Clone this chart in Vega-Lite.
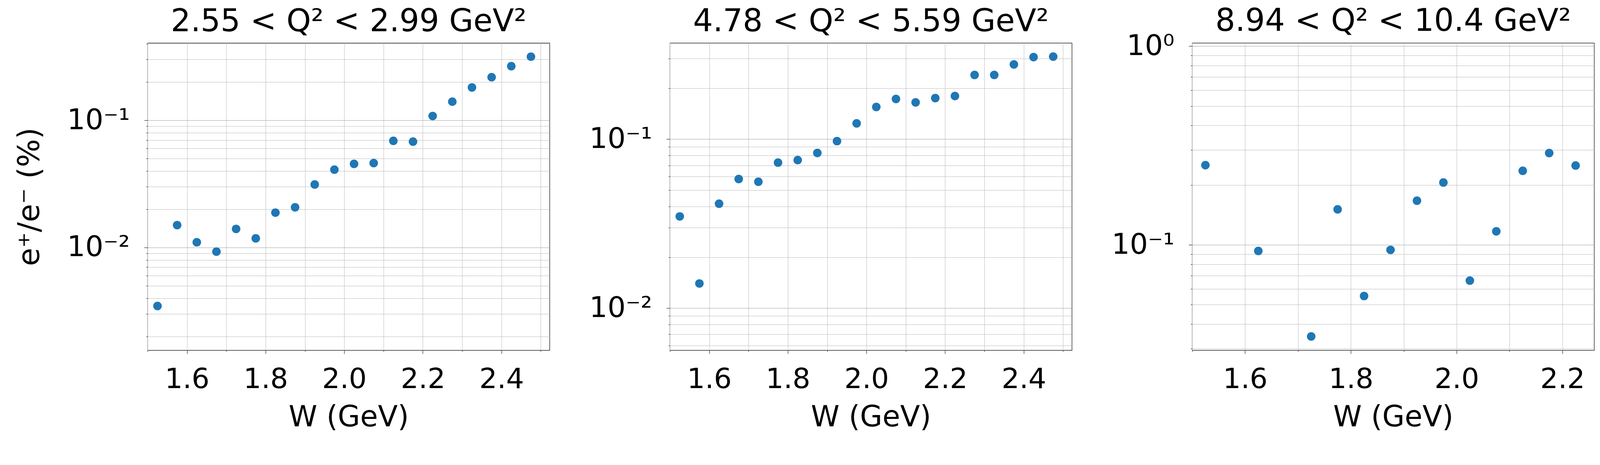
{
  "$schema": "https://vega.github.io/schema/vega-lite/v6.json",
  "background": "white",
  "padding": {"left": 37, "top": 14, "right": 9, "bottom": 4},
  "datasets": {
    "ratio": [
      {"panel": 1, "W": 1.525, "ratio": 0.00347},
      {"panel": 1, "W": 1.575, "ratio": 0.0150},
      {"panel": 1, "W": 1.625, "ratio": 0.0110},
      {"panel": 1, "W": 1.675, "ratio": 0.00928},
      {"panel": 1, "W": 1.725, "ratio": 0.0140},
      {"panel": 1, "W": 1.775, "ratio": 0.0118},
      {"panel": 1, "W": 1.825, "ratio": 0.0188},
      {"panel": 1, "W": 1.875, "ratio": 0.0207},
      {"panel": 1, "W": 1.925, "ratio": 0.0313},
      {"panel": 1, "W": 1.975, "ratio": 0.0409},
      {"panel": 1, "W": 2.025, "ratio": 0.0454},
      {"panel": 1, "W": 2.075, "ratio": 0.0461},
      {"panel": 1, "W": 2.125, "ratio": 0.0689},
      {"panel": 1, "W": 2.175, "ratio": 0.0679},
      {"panel": 1, "W": 2.225, "ratio": 0.108},
      {"panel": 1, "W": 2.275, "ratio": 0.140},
      {"panel": 1, "W": 2.325, "ratio": 0.181},
      {"panel": 1, "W": 2.375, "ratio": 0.218},
      {"panel": 1, "W": 2.425, "ratio": 0.266},
      {"panel": 1, "W": 2.475, "ratio": 0.316},
      {"panel": 2, "W": 1.525, "ratio": 0.0349},
      {"panel": 2, "W": 1.575, "ratio": 0.0140},
      {"panel": 2, "W": 1.625, "ratio": 0.0415},
      {"panel": 2, "W": 1.675, "ratio": 0.0581},
      {"panel": 2, "W": 1.725, "ratio": 0.0560},
      {"panel": 2, "W": 1.775, "ratio": 0.0727},
      {"panel": 2, "W": 1.825, "ratio": 0.0752},
      {"panel": 2, "W": 1.875, "ratio": 0.0829},
      {"panel": 2, "W": 1.925, "ratio": 0.0974},
      {"panel": 2, "W": 1.975, "ratio": 0.124},
      {"panel": 2, "W": 2.025, "ratio": 0.155},
      {"panel": 2, "W": 2.075, "ratio": 0.173},
      {"panel": 2, "W": 2.125, "ratio": 0.165},
      {"panel": 2, "W": 2.175, "ratio": 0.175},
      {"panel": 2, "W": 2.225, "ratio": 0.180},
      {"panel": 2, "W": 2.275, "ratio": 0.240},
      {"panel": 2, "W": 2.325, "ratio": 0.240},
      {"panel": 2, "W": 2.375, "ratio": 0.277},
      {"panel": 2, "W": 2.425, "ratio": 0.306},
      {"panel": 2, "W": 2.475, "ratio": 0.308},
      {"panel": 3, "W": 1.525, "ratio": 0.252},
      {"panel": 3, "W": 1.625, "ratio": 0.0932},
      {"panel": 3, "W": 1.725, "ratio": 0.0346},
      {"panel": 3, "W": 1.775, "ratio": 0.151},
      {"panel": 3, "W": 1.825, "ratio": 0.0553},
      {"panel": 3, "W": 1.875, "ratio": 0.0944},
      {"panel": 3, "W": 1.925, "ratio": 0.167},
      {"panel": 3, "W": 1.975, "ratio": 0.206},
      {"panel": 3, "W": 2.025, "ratio": 0.0661},
      {"panel": 3, "W": 2.075, "ratio": 0.117},
      {"panel": 3, "W": 2.125, "ratio": 0.236},
      {"panel": 3, "W": 2.175, "ratio": 0.290},
      {"panel": 3, "W": 2.225, "ratio": 0.251}
    ]
  },
  "spacing": 308,
  "bounds": "flush",
  "hconcat": [
    {
      "width": 1029,
      "height": 787,
      "title": {"text": "2.55 < Q² < 2.99 GeV²", "offset": 13},
      "data": {"name": "ratio"},
      "transform": [{"filter": "datum.panel == 1"}],
      "mark": {"type": "circle", "size": 480, "opacity": 1, "color": "#1f77b4"},
      "encoding": {
        "x": {
          "field": "W", "type": "quantitative", "title": "W (GeV)",
          "scale": {"type": "linear", "domain": [1.5, 2.5225], "nice": false, "zero": false},
          "axis": {
            "values": [1.5, 1.6, 1.7, 1.8, 1.9, 2.0, 2.1, 2.2, 2.3, 2.4, 2.5],
            "labelExpr": "abs(datum.value*5 - round(datum.value*5)) < 0.001 ? format(datum.value, '.1f') : ''",
            "labelFontSize": {"condition": {"test": "abs(datum.value*5 - round(datum.value*5)) < 0.001", "value": 72}, "value": 0},
            "tickSize": {"condition": {"test": "abs(datum.value*5 - round(datum.value*5)) < 0.001", "value": 9}, "value": 3.7}
          }
        },
        "y": {
          "field": "ratio", "type": "quantitative", "title": "e⁺/e⁻ (%)",
          "scale": {"type": "log", "domain": [0.00156, 0.405], "nice": false},
          "axis": {
            "values": [0.002, 0.003, 0.004, 0.005, 0.006, 0.007, 0.008, 0.009, 0.01, 0.02, 0.03, 0.04, 0.05, 0.06, 0.07, 0.08, 0.09, 0.1, 0.2, 0.3, 0.4],
            "labelExpr": "abs(log(datum.value)/LN10 + 1) < 0.001 ? '10⁻¹' : abs(log(datum.value)/LN10 + 2) < 0.001 ? '10⁻²' : ''",
            "labelFontSize": {"condition": {"test": "abs(log(datum.value)/LN10 - round(log(datum.value)/LN10)) < 0.001", "value": 73}, "value": 0},
            "tickSize": {"condition": {"test": "abs(log(datum.value)/LN10 - round(log(datum.value)/LN10)) < 0.001", "value": 9}, "value": 3.7},
            "gridColor": {"condition": {"test": "abs(log(datum.value)/LN10 - round(log(datum.value)/LN10)) < 0.001", "value": "#a2a2a2"}, "value": "#bcbcbc"}
          }
        }
      }
    },
    {
      "width": 1029,
      "height": 787,
      "title": {"text": "4.78 < Q² < 5.59 GeV²", "offset": 13},
      "data": {"name": "ratio"},
      "transform": [{"filter": "datum.panel == 2"}],
      "mark": {"type": "circle", "size": 480, "opacity": 1, "color": "#1f77b4"},
      "encoding": {
        "x": {
          "field": "W", "type": "quantitative", "title": "W (GeV)",
          "scale": {"type": "linear", "domain": [1.5, 2.5225], "nice": false, "zero": false},
          "axis": {
            "values": [1.5, 1.6, 1.7, 1.8, 1.9, 2.0, 2.1, 2.2, 2.3, 2.4, 2.5],
            "labelExpr": "abs(datum.value*5 - round(datum.value*5)) < 0.001 ? format(datum.value, '.1f') : ''",
            "labelFontSize": {"condition": {"test": "abs(datum.value*5 - round(datum.value*5)) < 0.001", "value": 72}, "value": 0},
            "tickSize": {"condition": {"test": "abs(datum.value*5 - round(datum.value*5)) < 0.001", "value": 9}, "value": 3.7}
          }
        },
        "y": {
          "field": "ratio", "type": "quantitative", "title": null,
          "scale": {"type": "log", "domain": [0.00564, 0.371], "nice": false},
          "axis": {
            "values": [0.006, 0.007, 0.008, 0.009, 0.01, 0.02, 0.03, 0.04, 0.05, 0.06, 0.07, 0.08, 0.09, 0.1, 0.2, 0.3],
            "labelExpr": "abs(log(datum.value)/LN10 + 1) < 0.001 ? '10⁻¹' : abs(log(datum.value)/LN10 + 2) < 0.001 ? '10⁻²' : ''",
            "labelFontSize": {"condition": {"test": "abs(log(datum.value)/LN10 - round(log(datum.value)/LN10)) < 0.001", "value": 73}, "value": 0},
            "tickSize": {"condition": {"test": "abs(log(datum.value)/LN10 - round(log(datum.value)/LN10)) < 0.001", "value": 9}, "value": 3.7},
            "gridColor": {"condition": {"test": "abs(log(datum.value)/LN10 - round(log(datum.value)/LN10)) < 0.001", "value": "#a2a2a2"}, "value": "#bcbcbc"}
          }
        }
      }
    },
    {
      "width": 1029,
      "height": 787,
      "title": {"text": "8.94 < Q² < 10.4 GeV²", "offset": -14},
      "data": {"name": "ratio"},
      "transform": [{"filter": "datum.panel == 3"}],
      "mark": {"type": "circle", "size": 480, "opacity": 1, "color": "#1f77b4"},
      "encoding": {
        "x": {
          "field": "W", "type": "quantitative", "title": "W (GeV)",
          "scale": {"type": "linear", "domain": [1.5, 2.26], "nice": false, "zero": false},
          "axis": {
            "values": [1.5, 1.6, 1.7, 1.8, 1.9, 2.0, 2.1, 2.2],
            "labelExpr": "abs(datum.value*5 - round(datum.value*5)) < 0.001 ? format(datum.value, '.1f') : ''",
            "labelFontSize": {"condition": {"test": "abs(datum.value*5 - round(datum.value*5)) < 0.001", "value": 72}, "value": 0},
            "tickSize": {"condition": {"test": "abs(datum.value*5 - round(datum.value*5)) < 0.001", "value": 9}, "value": 3.7}
          }
        },
        "y": {
          "field": "ratio", "type": "quantitative", "title": null,
          "scale": {"type": "log", "domain": [0.0295, 1.039], "nice": false},
          "axis": {
            "values": [0.03, 0.04, 0.05, 0.06, 0.07, 0.08, 0.09, 0.1, 0.2, 0.3, 0.4, 0.5, 0.6, 0.7, 0.8, 0.9, 1],
            "labelExpr": "abs(log(datum.value)/LN10 + 1) < 0.001 ? '10⁻¹' : abs(log(datum.value)/LN10) < 0.001 ? '10⁰' : ''",
            "labelFontSize": {"condition": {"test": "abs(log(datum.value)/LN10 - round(log(datum.value)/LN10)) < 0.001", "value": 73}, "value": 0},
            "tickSize": {"condition": {"test": "abs(log(datum.value)/LN10 - round(log(datum.value)/LN10)) < 0.001", "value": 9}, "value": 3.7},
            "gridColor": {"condition": {"test": "abs(log(datum.value)/LN10 - round(log(datum.value)/LN10)) < 0.001", "value": "#a2a2a2"}, "value": "#bcbcbc"}
          }
        }
      }
    }
  ],
  "config": {
    "font": "DejaVu Sans",
    "view": {"stroke": "black", "strokeWidth": 1.2},
    "title": {"fontSize": 80, "fontWeight": "normal", "color": "black", "anchor": "middle", "frame": "group", "baseline": "alphabetic"},
    "axis": {
      "domain": false,
      "grid": true,
      "gridColor": "#bcbcbc",
      "gridWidth": 1,
      "tickColor": "black",
      "tickWidth": 1,
      "labelColor": "black",
      "labelOverlap": false,
      "labelFlush": false,
      "labelBound": false,
      "titleColor": "black",
      "titleFontSize": 74,
      "titleFontWeight": "normal"
    },
    "axisX": {"labelPadding": 30, "titlePadding": 26},
    "axisY": {"labelPadding": 37, "titlePadding": 63, "titleFontSize": 76}
  }
}
